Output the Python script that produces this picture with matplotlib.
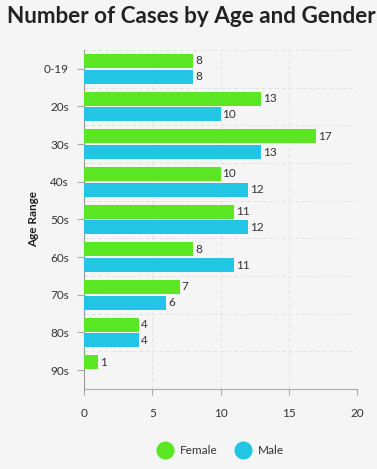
import matplotlib.pyplot as plt
from matplotlib.lines import Line2D
import numpy as np

plt.rcParams['font.family'] = ['Lato', 'DejaVu Sans']

ages = ['0-19', '20s', '30s', '40s', '50s', '60s', '70s', '80s', '90s']
female = [8, 13, 17, 10, 11, 8, 7, 4, 1]
male = [8, 10, 13, 12, 12, 11, 6, 4, 0]
x_ticks = [0, 5, 10, 15, 20]

green = '#5ae622'
cyan = '#22c5e4'
bg = '#f5f5f5'
txt = '#333333'

fig = plt.figure(figsize=(3.77, 4.69), dpi=100)
fig.patch.set_facecolor(bg)
ax = fig.add_axes([0.2228, 0.1706, 0.947 - 0.2228, 0.8934 - 0.1706])
ax.set_facecolor(bg)

y = np.arange(len(ages))
h = 0.37
off = 0.21
ax.barh(y - off, female, height=h, color=green, zorder=3)
male_bars = [(i, v) for i, v in zip(y, male) if v > 0]
ax.barh([i + off for i, v in male_bars], [v for i, v in male_bars], height=h, color=cyan, zorder=3)

for i, v in enumerate(female):
    ax.text(v + 0.15, i - off, str(v), va='center', ha='left', fontsize=8.5, color=txt)
for i, v in male_bars:
    ax.text(v + 0.15, i + off, str(v), va='center', ha='left', fontsize=8.5, color=txt)

ax.set_ylim(len(ages) - 0.5, -0.5)
ax.set_xlim(0, 20)
ax.set_yticks(y)
ax.set_yticklabels(ages, fontsize=8.5, color=txt)
ax.set_xticks(x_ticks)
ax.set_xticklabels([str(t) for t in x_ticks], fontsize=8.5, color=txt)
ax.set_yticks(np.arange(len(ages) + 1) - 0.5, minor=True)
ax.tick_params(axis='y', which='major', length=5, color='#aaaaaa', pad=6)
ax.tick_params(axis='y', which='minor', length=0)
ax.tick_params(axis='x', length=4, color='#aaaaaa', pad=10)
ax.grid(axis='x', which='major', linestyle=(0, (4, 3)), color='#e2e2e2', linewidth=0.7, zorder=0)
ax.grid(axis='y', which='minor', linestyle=(0, (4, 3)), color='#e2e2e2', linewidth=0.7, zorder=0)
ax.grid(axis='y', which='major', visible=False)
for s in ['top', 'right']:
    ax.spines[s].set_visible(False)
ax.spines['left'].set_color('#999999')
ax.spines['bottom'].set_color('#aaaaaa')

ax.set_ylabel('Age Range', fontsize=8.5, fontweight='bold', color='#222222', labelpad=3)
fig.text(0.018, 0.965, 'Number of Cases by Age and Gender', fontsize=16.2, fontweight='bold',
         color='#222222', ha='left', va='center')

handles = [Line2D([], [], marker='o', linestyle='', markersize=12, color=green),
           Line2D([], [], marker='o', linestyle='', markersize=12, color=cyan)]
fig.legend(handles, ['Female', 'Male'], loc='center', bbox_to_anchor=(0.58, 0.04), ncol=2,
           frameon=False, fontsize=8.5, handletextpad=0.2, columnspacing=1.2, labelcolor=txt)

fig.savefig('out.png', dpi=100, facecolor=bg)
